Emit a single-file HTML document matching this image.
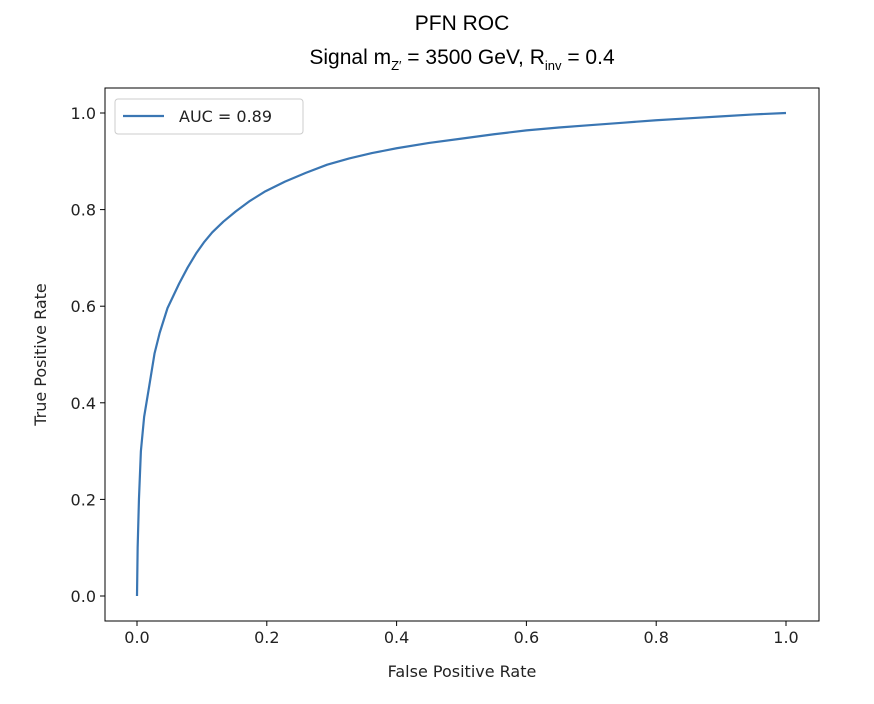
<!DOCTYPE html>
<html><head><meta charset="utf-8"><style>
body{margin:0;background:#fff;}
svg{display:block;font-family:"DejaVu Sans","Liberation Sans",sans-serif;}
.title{font-family:"Liberation Sans",sans-serif;font-size:21px;fill:#000;}
</style></head><body>
<svg id="chart" width="874" height="704" viewBox="0 0 874 704">
<text class="title" x="462" y="30" text-anchor="middle">PFN ROC</text>
<text class="title" x="462" y="64" text-anchor="middle">Signal m<tspan font-size="13" dy="6">Z′</tspan><tspan dy="-6"> = 3500 GeV, R</tspan><tspan font-size="13" dy="6">inv</tspan><tspan dy="-6">  = 0.4</tspan></text>
<g id="plot"></g>
</svg>
<script>
const fpr=[0,0.001,0.003,0.006,0.011,0.019,0.027,0.035,0.047,0.065,0.078,0.091,0.103,0.116,0.133,0.152,0.174,0.198,0.228,0.26,0.293,0.327,0.362,0.4,0.45,0.5,0.55,0.6,0.65,0.7,0.75,0.8,0.85,0.9,0.95,1.0];
const tpr=[0,0.1,0.2,0.3,0.371,0.436,0.502,0.545,0.596,0.647,0.68,0.709,0.732,0.753,0.775,0.796,0.818,0.838,0.858,0.876,0.893,0.906,0.917,0.927,0.938,0.947,0.956,0.964,0.97,0.975,0.98,0.985,0.989,0.993,0.997,1.0];
const xTicks=[0,0.2,0.4,0.6,0.8,1.0];
const yTicks=[0,0.2,0.4,0.6,0.8,1.0];
const legendLabel="AUC = 0.89";
const NS="http://www.w3.org/2000/svg";
const L=105,R=819,T=88,B=621;
const sx=v=>137+v*(786-137);
const sy=v=>596-v*(596-113);
const g=document.getElementById('plot');
function mk(t,a){const e=document.createElementNS(NS,t);for(const k in a)e.setAttribute(k,a[k]);g.appendChild(e);return e;}
const fr=mk('rect',{x:L,y:T,width:R-L,height:B-T,fill:'none',stroke:'#000','stroke-width':1});


xTicks.forEach(v=>{
 const l=mk('line',{x1:sx(v),x2:sx(v),y1:B,y2:B+5,stroke:'#000'});
 
 
 const t=mk('text',{x:sx(v),y:B+22,'text-anchor':'middle','font-size':16,fill:'#222'});
 t.textContent=v.toFixed(1);
 
 
});
yTicks.forEach(v=>{
 const l=mk('line',{x1:L-5,x2:L,y1:sy(v),y2:sy(v),stroke:'#000'});
 
 
 const t=mk('text',{x:L-9,y:sy(v)+6,'text-anchor':'end','font-size':16,fill:'#222'});
 t.textContent=v.toFixed(1);
 
 
});
const xt=mk('text',{x:(L+R)/2,y:677,'text-anchor':'middle','font-size':16,fill:'#222'});
xt.textContent='False Positive Rate';


const yt=mk('text',{x:0,y:0,'text-anchor':'middle','font-size':16,fill:'#222',transform:`translate(46,${(T+B)/2}) rotate(-90)`});
yt.textContent='True Positive Rate';


const p=mk('polyline',{points:fpr.map((v,i)=>sx(v)+','+sy(tpr[i])).join(' '),fill:'none',stroke:'#3a76b3','stroke-width':2.2,'stroke-linejoin':'round'});


const lb=mk('rect',{x:115,y:99,width:188,height:35,rx:3,fill:'#fff',stroke:'#ccc'});


const ll=mk('line',{x1:123,x2:164,y1:116,y2:116,stroke:'#3a76b3','stroke-width':2.2});


const lt=mk('text',{x:179,y:122,'font-size':16,fill:'#222'});
lt.textContent=legendLabel;


</script>
</body></html>
